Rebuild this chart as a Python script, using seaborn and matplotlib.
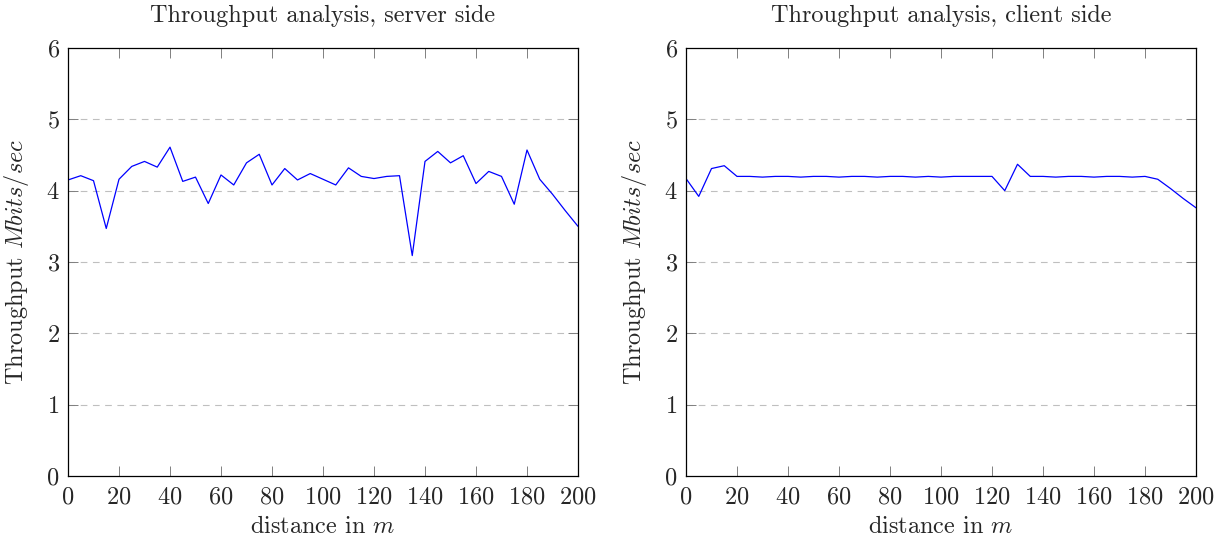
import matplotlib
matplotlib.use("Agg")
import matplotlib.pyplot as plt
import seaborn as sns
import pandas as pd

distance = list(range(0, 205, 5))
server = [4.15, 4.21, 4.14, 3.47, 4.16, 4.34, 4.41, 4.33, 4.61, 4.13,
          4.19, 3.82, 4.22, 4.08, 4.39, 4.51, 4.08, 4.31, 4.15, 4.24,
          4.16, 4.08, 4.32, 4.20, 4.17, 4.20, 4.21, 3.09, 4.41, 4.55,
          4.39, 4.49, 4.10, 4.27, 4.20, 3.81, 4.57, 4.16, 3.95, 3.72, 3.50]
client = [4.17, 3.92, 4.31, 4.35, 4.20, 4.20, 4.19, 4.20, 4.20, 4.19,
          4.20, 4.20, 4.19, 4.20, 4.20, 4.19, 4.20, 4.20, 4.19, 4.20,
          4.19, 4.20, 4.20, 4.20, 4.20, 4.00, 4.37, 4.20, 4.20, 4.19,
          4.20, 4.20, 4.19, 4.20, 4.20, 4.19, 4.20, 4.16, 4.03, 3.89, 3.76]
titles = ["Throughput analysis, server side", "Throughput analysis, client side"]
xticks = list(range(0, 201, 20))
yticks = list(range(0, 7))

sns.set_style("ticks")
plt.rcParams["font.family"] = ["cmr10", "DejaVu Serif"]
plt.rcParams["mathtext.fontset"] = "cm"
plt.rcParams["axes.formatter.use_mathtext"] = True

FS = 17.5
fig = plt.figure(figsize=(12.15, 5.41), dpi=100)
lefts = [68 / 1215, 686 / 1215]
for i, (vals, title) in enumerate(zip([server, client], titles)):
    ax = fig.add_axes([lefts[i], 65 / 541, 510 / 1215, 428 / 541])
    df = pd.DataFrame({"distance": distance, "throughput": vals})
    sns.lineplot(data=df, x="distance", y="throughput", ax=ax,
                 color="#0000ff", linewidth=0.9)
    ax.set_xlim(0, 200)
    ax.set_ylim(0, 6)
    ax.set_xticks(xticks)
    ax.set_yticks(yticks)
    for y in yticks[1:-1]:
        ax.axhline(y, color="#bfbfbf", linestyle=(0, (6, 5)), linewidth=0.8, zorder=0)
    ax.tick_params(direction="in", length=7, width=0.7, color="#808080",
                   top=True, right=True, labelsize=FS)
    ax.tick_params(axis="x", pad=7.5)
    ax.tick_params(axis="y", pad=6)
    for sp in ax.spines.values():
        sp.set_color("black")
        sp.set_linewidth(0.9)
    ax.set_title(title, fontsize=FS, pad=19)
    ax.set_xlabel("distance in $m$", fontsize=FS, labelpad=5)
    ax.set_ylabel("Throughput $Mbits/sec$", fontsize=FS, labelpad=11)

fig.savefig("out.png", dpi=100)
